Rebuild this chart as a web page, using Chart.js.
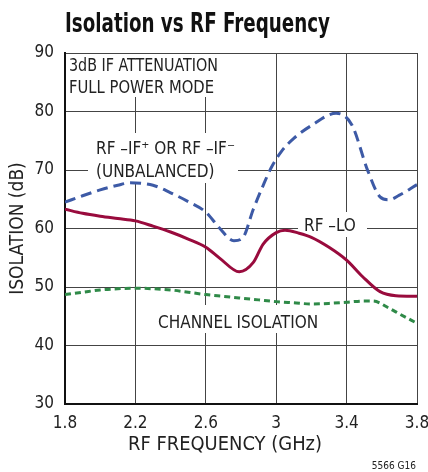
<!DOCTYPE html>
<html>
<head>
<meta charset="utf-8">
<script src="https://cdn.jsdelivr.net/npm/chart.js@4"></script>
<style>
  body { margin: 0; background: #fff; }
  #wrap { width: 428px; height: 472px; position: relative; }
</style>
</head>
<body>
<div id="wrap"><canvas id="chart"></canvas></div>
<script>
"use strict";

// values
const rfIfFreq = [1.8, 1.9, 2.0, 2.1, 2.17, 2.3, 2.4, 2.5, 2.6, 2.68, 2.76, 2.81, 2.87, 2.925, 2.97, 3.03, 3.1, 3.2, 3.34, 3.43, 3.52, 3.59, 3.64, 3.7, 3.8];
const rfIfIso = [64.5, 65.6, 66.6, 67.4, 67.8, 67.4, 66.1, 64.6, 62.8, 60.0, 57.9, 58.4, 63.3, 67.3, 70.3, 73.2, 75.4, 77.6, 79.7, 77.7, 69.9, 65.4, 64.9, 65.7, 67.5];

const rfLoFreq = [1.8, 1.9, 2.0, 2.1, 2.2, 2.3, 2.4, 2.5, 2.6, 2.68, 2.79, 2.87, 2.925, 3.0, 3.05, 3.13, 3.2, 3.3, 3.4, 3.49, 3.59, 3.68, 3.8];
const rfLoIso = [63.3, 62.6, 62.1, 61.7, 61.3, 60.4, 59.4, 58.2, 56.8, 54.9, 52.6, 54.2, 57.3, 59.3, 59.7, 59.2, 58.5, 56.8, 54.6, 51.8, 49.2, 48.5, 48.4];

const chanFreq = [1.8, 1.9, 2.0, 2.1, 2.2, 2.3, 2.4, 2.5, 2.6, 2.7, 2.8, 2.9, 3.0, 3.1, 3.2, 3.3, 3.4, 3.5, 3.55, 3.64, 3.7, 3.8];
const chanIso = [48.7, 49.1, 49.5, 49.7, 49.8, 49.7, 49.5, 49.1, 48.7, 48.4, 48.1, 47.8, 47.5, 47.3, 47.1, 47.2, 47.4, 47.6, 47.6, 46.4, 45.4, 43.8];

const xTicks = [1.8, 2.2, 2.6, 3.0, 3.4, 3.8];
const xTickLabels = ['1.8', '2.2', '2.6', '3', '3.4', '3.8'];
const yTicks = [30, 40, 50, 60, 70, 80, 90];

const FONT = "'Liberation Sans Narrow', 'DejaVu Sans Condensed', sans-serif";

function toPoints(xs, ys) {
    return xs.map((x, i) => ({ x: x, y: ys[i] }));
}

// squeeze a string sideways so it spans the given width
function fitText(c, text, x, y, width) {
    const w = c.measureText(text).width;
    c.save();
    c.translate(x, y);
    c.scale(width / w, 1);
    c.fillText(text, 0, 0);
    c.restore();
}

// labels on white patches that break the grid, like the datasheet
const notes = {
    id: 'notes',
    beforeDatasetsDraw(chart) {
        const c = chart.ctx;
        c.save();
        c.fillStyle = '#fff';
        c.fillRect(66, 54, 182, 43);
        c.fillRect(88, 133, 150, 50);
        c.fillRect(298, 212, 69, 25);
        c.fillRect(150, 305, 175, 28);

        c.fillStyle = '#222';
        c.font = '17px ' + FONT;
        fitText(c, '3dB IF ATTENUATION', 69, 71, 149);
        fitText(c, 'FULL POWER MODE', 69, 93, 145);
        c.fillText('RF \u2013IF\u207A OR RF \u2013IF\u207B', 96, 154);
        c.fillText('(UNBALANCED)', 96, 177);
        c.fillText('RF \u2013LO', 304, 231);
        c.fillText('CHANNEL ISOLATION', 158, 328);
        c.restore();
    },
    afterDraw(chart) {
        const c = chart.ctx;
        c.save();
        c.fillStyle = '#111';
        c.font = 'bold 26px ' + FONT;
        fitText(c, 'Isolation vs RF Frequency', 65, 32, 265);
        c.fillStyle = '#222';
        c.font = '20px ' + FONT;
        fitText(c, 'RF FREQUENCY (GHz)', 128, 450, 194);
        c.font = '10px ' + FONT;
        c.textAlign = 'right';
        c.fillText('5566 G16', 416, 469);
        c.restore();
    }
};

const ctx = document.getElementById('chart').getContext('2d');

new Chart(ctx, {
    type: 'line',
    data: {
        datasets: [
            {
                label: 'RF-IF',
                data: toPoints(rfIfFreq, rfIfIso),
                borderColor: '#3d5aa6',
                borderWidth: 3,
                borderDash: [11, 6],
                pointRadius: 0,
                cubicInterpolationMode: 'monotone'
            },
            {
                label: 'RF-LO',
                data: toPoints(rfLoFreq, rfLoIso),
                borderColor: '#990b3d',
                borderWidth: 3,
                pointRadius: 0,
                cubicInterpolationMode: 'monotone'
            },
            {
                label: 'Channel',
                data: toPoints(chanFreq, chanIso),
                borderColor: '#2f8a48',
                borderWidth: 3,
                borderDash: [6, 4],
                pointRadius: 0,
                cubicInterpolationMode: 'monotone'
            }
        ]
    },
    options: {
        responsive: true,
        maintainAspectRatio: false,
        animation: false,
        layout: {
            padding: { top: 53, right: 11, bottom: 0, left: 0 }
        },
        scales: {
            x: {
                type: 'linear',
                min: 1.8,
                max: 3.8,
                afterBuildTicks: scale => { scale.ticks = xTicks.map(v => ({ value: v })); },
                afterFit: scale => {
                    scale.height = 68;
                    scale.paddingLeft = 0;
                    scale.paddingRight = 0;
                },
                ticks: {
                    color: '#222',
                    padding: 9,
                    font: { family: FONT, size: 17 },
                    callback: (v, i) => xTickLabels[i]
                },
                grid: { color: '#444', lineWidth: 1, drawTicks: false },
                border: { color: '#111', width: 2 }
            },
            y: {
                min: 30,
                max: 90,
                afterBuildTicks: scale => { scale.ticks = yTicks.map(v => ({ value: v })); },
                afterFit: scale => {
                    scale.width = 65;
                    scale.paddingTop = 0;
                    scale.paddingBottom = 0;
                },
                ticks: {
                    color: '#222',
                    padding: 11,
                    font: { family: FONT, size: 17 }
                },
                title: {
                    display: true,
                    text: 'ISOLATION (dB)',
                    color: '#222',
                    font: { family: FONT, size: 19 },
                    padding: { top: 7, bottom: 0 }
                },
                grid: { color: '#444', lineWidth: 1, drawTicks: false },
                border: { color: '#111', width: 2 }
            }
        },
        plugins: {
            legend: { display: false },
            tooltip: { enabled: false }
        }
    },
    plugins: [notes]
});
</script>
</body>
</html>
